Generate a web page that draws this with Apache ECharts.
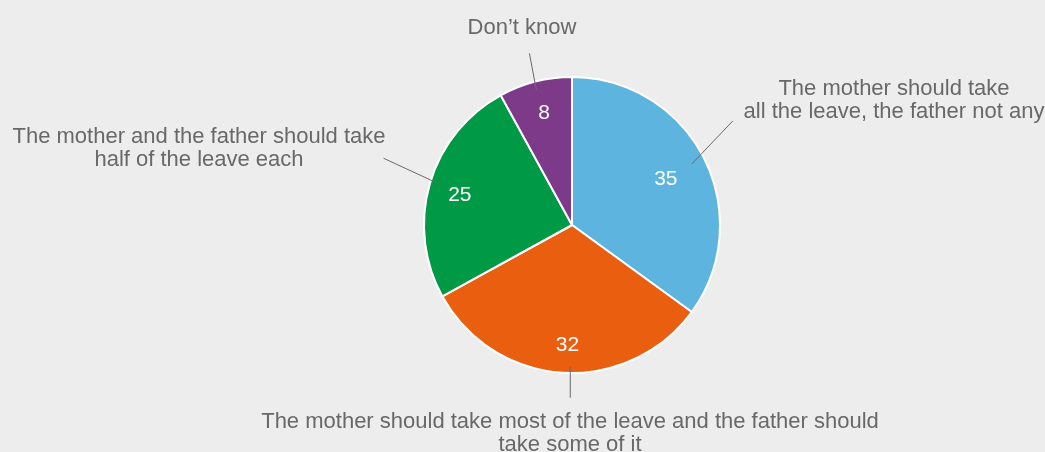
<!DOCTYPE html>
<html><head><meta charset="utf-8">
<script src="https://cdn.jsdelivr.net/npm/echarts@6/dist/echarts.min.js"></script>
<style>html,body{margin:0;padding:0;background:#ecedec;}#c{width:1045px;height:452px;}</style>
</head><body><div id="c"></div>
<script>
const categories = [
  "The mother should take\nall the leave, the father not any",
  "The mother should take most of the leave and the father should\ntake some of it",
  "The mother and the father should take\nhalf of the leave each",
  "Don\u2019t know"
];
const values = [35, 32, 25, 8];
const colors = ['#5db4df', '#e95e0f', '#009a47', '#7d3a89'];
// label placement (text centre), label-line start nudge and end offset
const labelPlace = [
  {x: 894, y: 100, sx: -4, sy: 2, dx: 41, dy: -43},
  {x: 570, y: 433, sx: 7, sy: 3, dx: 0, dy: 31},
  {x: 199, y: 148, sx: -1, sy: -3, dx: -54, dy: -25},
  {x: 522, y: 28, sx: -1, sy: 0, dx: -7, dy: -37}
];
// nudges for the value labels inside the slices
const valueOffsets = [[-13, 9], [3, 1], [3, 4], [2, 4]];
const center = [572, 225];
const R = 148;
const FONT = 'Liberation Sans, Arial, sans-serif';

const chart = echarts.init(document.getElementById('c'), null, {renderer: 'canvas'});
const data = categories.map((n, i) => ({name: n, value: values[i], itemStyle: {color: colors[i]}}));
chart.setOption({
  backgroundColor: '#ecedec',
  animation: false,
  series: [
    {
      type: 'pie', center: center, radius: R, startAngle: 90, clockwise: true,
      silent: true, avoidLabelOverlap: false, z: 2,
      itemStyle: {borderColor: '#ffffff', borderWidth: 2},
      label: {show: false}, labelLine: {show: false},
      data: data
    },
    {
      type: 'pie', center: center, radius: 139, startAngle: 90, clockwise: true,
      silent: true, avoidLabelOverlap: false, z: 4,
      itemStyle: {color: 'transparent', borderWidth: 0},
      label: {show: true, position: 'outside', formatter: '{b}', color: '#686868', fontSize: 22,
        fontFamily: FONT, lineHeight: 23, align: 'center'},
      labelLine: {show: true, length: 30, length2: 0, lineStyle: {color: '#6a6a6a', width: 1}},
      labelLayout: function (p) {
        const lp = labelPlace[p.dataIndex];
        const s = p.labelLinePoints[0];
        const x0 = s[0] + lp.sx, y0 = s[1] + lp.sy;
        return {
          x: lp.x, y: lp.y, align: 'center', verticalAlign: 'middle',
          labelLinePoints: [[x0, y0], [x0 + lp.dx, y0 + lp.dy]]
        };
      },
      data: data.map(d => ({name: d.name, value: d.value}))
    },
    {
      type: 'pie', center: center, radius: [R * 0.58, R], startAngle: 90, clockwise: true,
      silent: true, avoidLabelOverlap: false, z: 5,
      itemStyle: {color: 'transparent', borderWidth: 0},
      label: {show: true, position: 'inside', formatter: '{c}', color: '#ffffff', fontSize: 21, fontFamily: FONT},
      labelLine: {show: false},
      data: data.map((d, i) => ({name: d.name, value: d.value, label: {offset: valueOffsets[i]}}))
    }
  ]
});
</script></body></html>
